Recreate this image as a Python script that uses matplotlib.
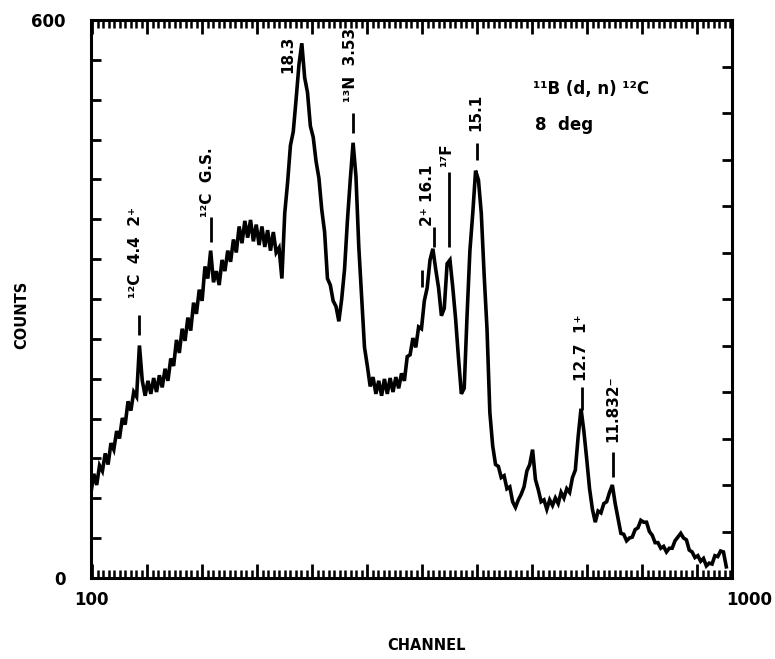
import matplotlib
matplotlib.use("Agg")
import matplotlib.pyplot as plt
import numpy as np

# neutron spectrum, counts per 4-channel bin starting at channel 100
counts = [
    92, 112, 100, 121, 115, 134, 122, 145, 138, 158, 150, 172, 165, 190, 180, 200,
    195, 250, 212, 196, 212, 198, 215, 200, 218, 205, 225, 212, 236, 228, 256, 242,
    268, 255, 280, 266, 296, 284, 310, 298, 335, 322, 352, 318, 330, 315, 342, 330,
    352, 340, 364, 350, 378, 360, 384, 366, 385, 362, 380, 358, 378, 356, 374, 352,
    372, 350, 355, 322, 392, 425, 465, 480, 515, 552, 575, 538, 522, 486, 474, 448,
    430, 396, 372, 322, 315, 298, 292, 276, 300, 332, 384, 428, 468, 432, 356, 302,
    248, 228, 206, 216, 198, 212, 196, 214, 198, 215, 200, 216, 204, 220, 212, 238,
    240, 258, 248, 270, 268, 298, 312, 342, 354, 332, 312, 282, 290, 338, 342, 312,
    278, 236, 198, 204, 282, 352, 392, 438, 428, 392, 326, 268, 178, 142, 122, 120,
    108, 110, 96, 98, 82, 76, 84, 90, 98, 115, 122, 138, 106, 95, 82, 84,
    74, 84, 78, 86, 80, 92, 86, 96, 92, 108, 116, 152, 182, 158, 128, 96,
    74, 60, 72, 70, 80, 82, 92, 100, 80, 64, 48, 47, 40, 43, 44, 52,
    54, 62, 60, 60, 50, 46, 38, 38, 32, 34, 28, 32, 32, 40, 44, 48,
    43, 41, 30, 28, 22, 24, 18, 21, 13, 16, 15, 24, 23, 29, 28, 12,
]
channel = 100 + 4 * np.arange(len(counts))

# peak identifications
peak_text = ["¹²C  4.4  2⁺", "¹²C  G.S.", "18.3", "¹³N  3.53", "2⁺ 16.1",
             "¹⁷F", "15.1", "12.7  1⁺", "11.832⁻"]
peak_text_ch = [163, 264, 377, 464, 573, 600, 641, 789, 833]
peak_text_y = [350, 426, 563, 552, 412, 455, 501, 248, 182]

# short vertical markers under the labels
marker_ch = [167, 268, 468, 565, 581, 602, 642, 789, 833]
marker_lo = [261, 361, 478, 313, 356, 356, 449, 181, 109]
marker_hi = [283, 388, 500, 331, 377, 437, 468, 205, 135]

fig = plt.figure(figsize=(7.75, 6.59), dpi=100)
ax = fig.add_axes([91 / 775, 81 / 659, 641 / 775, 558 / 659])

ax.plot(channel, counts, color="black", lw=2.6, solid_joinstyle="miter")

ax.set_xlim(100, 1000)
ax.set_ylim(0, 600)

for s in ax.spines.values():
    s.set_linewidth(2.2)

# channel ticks: long every 10th
minor_step = 7.72
xt = 148 + minor_step * np.arange(-6, 112)
xt = xt[(xt > 100) & (xt < 1000)]
ax.set_xticks(xt[::10][:], labels=[])
ax.set_xticks(xt, minor=True)
ax.tick_params(axis="x", which="major", direction="in", top=True, bottom=True,
               length=10, width=2)
ax.tick_params(axis="x", which="minor", direction="in", top=True, bottom=True,
               length=5.5, width=1.8)

yt = np.linspace(0, 600, 15)
ylab = [""] * 15
ylab[0] = "0"
ylab[-1] = "600"
ax.set_yticks(yt, labels=ylab)
ax.tick_params(axis="y", direction="in", length=7, width=2, pad=18,
               labelsize=12)
for t in ax.get_yticklabels():
    t.set_fontweight("bold")

ax2 = ax.twinx()
ax2.set_ylim(0, 600)
ax2.set_yticks(np.arange(0, 601, 50), labels=[])
ax2.tick_params(axis="y", direction="in", length=7, width=2)
for s in ax2.spines.values():
    s.set_visible(False)

ax.text(100, -0.04, "100", transform=ax.get_xaxis_transform(), ha="center",
        va="center", fontsize=12, fontweight="bold")
ax.text(992, -0.04, "1000", transform=ax.get_xaxis_transform(), ha="left",
        va="center", fontsize=12, fontweight="bold")

ax.set_xlabel("CHANNEL", fontsize=10.5, fontweight="bold")
ax.xaxis.set_label_coords(0.524, -0.108)
ax.set_ylabel("COUNTS", fontsize=10.5, fontweight="bold")
ax.yaxis.set_label_coords(-0.097, 0.471)

for txt, cx, cy in zip(peak_text, peak_text_ch, peak_text_y):
    ax.text(cx, cy, txt, rotation=90, ha="center", va="center",
            fontsize=11, fontweight="bold")
ax.vlines(marker_ch, marker_lo, marker_hi, colors="black", lw=2)

ax.text(721, 526, "¹¹B (d, n) ¹²C", ha="left", va="center", fontsize=12,
        fontweight="bold")
ax.text(723, 487, "8  deg", ha="left", va="center", fontsize=12,
        fontweight="bold")

fig.savefig("out.png", dpi=100)
